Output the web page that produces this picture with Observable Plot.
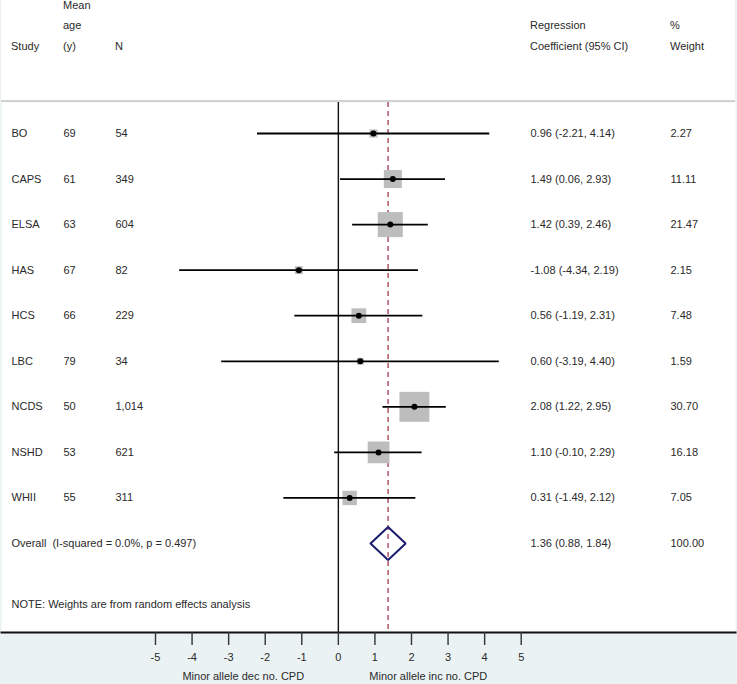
<!DOCTYPE html>
<html><head><meta charset="utf-8">
<script src="https://cdn.jsdelivr.net/npm/d3@7"></script>
<script src="https://cdn.jsdelivr.net/npm/@observablehq/plot@0.6"></script>
<style>
body{margin:0;background:#eaf2f4;font-family:"Liberation Sans",Arial,sans-serif;}
#wrap{position:relative;width:737px;height:684px;background:#eaf2f4;overflow:hidden;}
#head{position:absolute;left:1px;top:0;width:734px;height:100px;background:#fff;border-bottom:2px solid #d2d2d2;}
.h{position:absolute;font-size:11px;line-height:13px;color:#2a2a2a;white-space:nowrap;}
#chart{position:absolute;left:0;top:102px;}
</style></head><body>
<div id="wrap"><div id="head"></div><div id="chart"></div></div>
<script>
// ---- data ----
const studies = ["BO","CAPS","ELSA","HAS","HCS","LBC","NCDS","NSHD","WHII"];
const meanAges = [69,61,63,67,66,79,50,53,55];
const sampleN = ["54","349","604","82","229","34","1,014","621","311"];
const coefs = [0.96,1.49,1.42,-1.08,0.56,0.60,2.08,1.10,0.31];
const lowerCI = [-2.21,0.06,0.39,-4.34,-1.19,-3.19,1.22,-0.10,-1.49];
const upperCI = [4.14,2.93,2.46,2.19,2.31,4.40,2.95,2.29,2.12];
const weights = [2.27,11.11,21.47,2.15,7.48,1.59,30.70,16.18,7.05];
const overallLabel = "Overall  (I-squared = 0.0%, p = 0.497)";
const overallCoef = 1.36, overallLower = 0.88, overallUpper = 1.84, overallWeight = 100.00;
const xTicks = [-5,-4,-3,-2,-1,0,1,2,3,4,5];
const axisTitles = ["Minor allele dec no. CPD","Minor allele inc no. CPD"];
const noteText = "NOTE: Weights are from random effects analysis";
const headStudy = ["Study"];
const headAge = ["Mean","age","(y)"];
const headN = ["N"];
const headCoef = ["Regression","Coefficient (95% CI)"];
const headWeight = ["%","Weight"];

// ---- header (HTML) ----
const head = document.getElementById("head");
function addHead(lines, left) {
  const n = lines.length;
  lines.forEach((t, k) => {
    const d = document.createElement("div");
    d.className = "h";
    d.textContent = t;
    const centerY = 46 - (n - 1 - k) * 20.5;
    d.style.left = (left - 1) + "px";
    d.style.top = (centerY - 6.5) + "px";
    head.appendChild(d);
  });
}
addHead(headStudy, 11);
addHead(headAge, 63);
addHead(headN, 115);
addHead(headCoef, 530);
addHead(headWeight, 670);

// ---- table ----
const f2 = d3.format(".2f");
const fmt = v => f2(v).replace("−", "-");
const rows = studies.map((s, i) => ({
  i: i + 1, study: s, age: meanAges[i], n: sampleN[i],
  coef: coefs[i], lower: lowerCI[i], upper: upperCI[i], weight: weights[i],
  ci: `${fmt(coefs[i])} (${fmt(lowerCI[i])}, ${fmt(upperCI[i])})`,
  w: fmt(weights[i])
}));
const overallRow = {i: studies.length + 1, label: overallLabel,
  ci: `${fmt(overallCoef)} (${fmt(overallLower)}, ${fmt(overallUpper)})`, w: fmt(overallWeight)};
const halfH = 0.36;
const diamond = [
  {x: overallLower, y: overallRow.i},
  {x: overallCoef, y: overallRow.i - halfH},
  {x: overallUpper, y: overallRow.i},
  {x: overallCoef, y: overallRow.i + halfH},
  {x: overallLower, y: overallRow.i}
];

const font = "Liberation Sans, Arial, sans-serif";
const txt = {fontSize: 11, fontFamily: font, fill: "#2a2a2a", textAnchor: "start", frameAnchor: "left"};

const chart = Plot.plot({
  width: 737, height: 582,
  marginLeft: 1, marginRight: 2, marginTop: 0, marginBottom: 52,
  style: {background: "transparent", color: "#2a2a2a", fontFamily: font, fontSize: "11px"},
  x: {domain: [-5, 5], range: [155, 520.7], axis: null},
  y: {domain: [1, 10], range: [31, 441], axis: null},
  r: {type: "sqrt", domain: [0, 30.7], range: [0, 16.9]},
  marks: [
    Plot.frame({fill: "white", stroke: null}),
    Plot.ruleX([0], {stroke: "#111", strokeWidth: 1.4}),
    Plot.ruleX([overallCoef], {stroke: "#a33a4c", strokeWidth: 1.3, strokeDasharray: "5,4"}),
    Plot.dot(rows, {x: "coef", y: "i", r: "weight", symbol: "square", fill: "#bdbdbd", stroke: null}),
    Plot.ruleY(rows, {y: "i", x1: "lower", x2: "upper", stroke: "#000", strokeWidth: 1.8}),
    Plot.dot(rows, {x: "coef", y: "i", r: 3, fill: "#000", stroke: null}),
    Plot.line(diamond, {x: "x", y: "y", stroke: "#1c1c6e", strokeWidth: 2, strokeLinejoin: "miter"}),
    Plot.text(rows, {...txt, y: "i", text: "study", dx: 10}),
    Plot.text(rows, {...txt, y: "i", text: "age", dx: 62}),
    Plot.text(rows, {...txt, y: "i", text: "n", dx: 114}),
    Plot.text(rows, {...txt, y: "i", text: "ci", dx: 529}),
    Plot.text(rows, {...txt, y: "i", text: "w", dx: 669}),
    Plot.text([overallRow], {...txt, y: "i", text: "label", dx: 10}),
    Plot.text([overallRow], {...txt, y: "i", text: "ci", dx: 529}),
    Plot.text([overallRow], {...txt, y: "i", text: "w", dx: 669}),
    Plot.text([noteText], {...txt, frameAnchor: "bottom-left", text: d => d, dx: 10, dy: -25}),
    Plot.frame({anchor: "bottom", stroke: "#111", strokeWidth: 2}),
    Plot.axisX({ticks: xTicks, anchor: "bottom", tickSize: 13, tickPadding: 8, tickFormat: d => String(d), fontSize: 11, stroke: "#333", strokeWidth: 1.4, label: null}),
    Plot.text(axisTitles, {x: [-2.6, 2.46], frameAnchor: "bottom", dy: 47, text: d => d, fontSize: 11, fontFamily: font, fill: "#2a2a2a"})
  ]
});
document.getElementById("chart").appendChild(chart);
</script>
</body></html>
